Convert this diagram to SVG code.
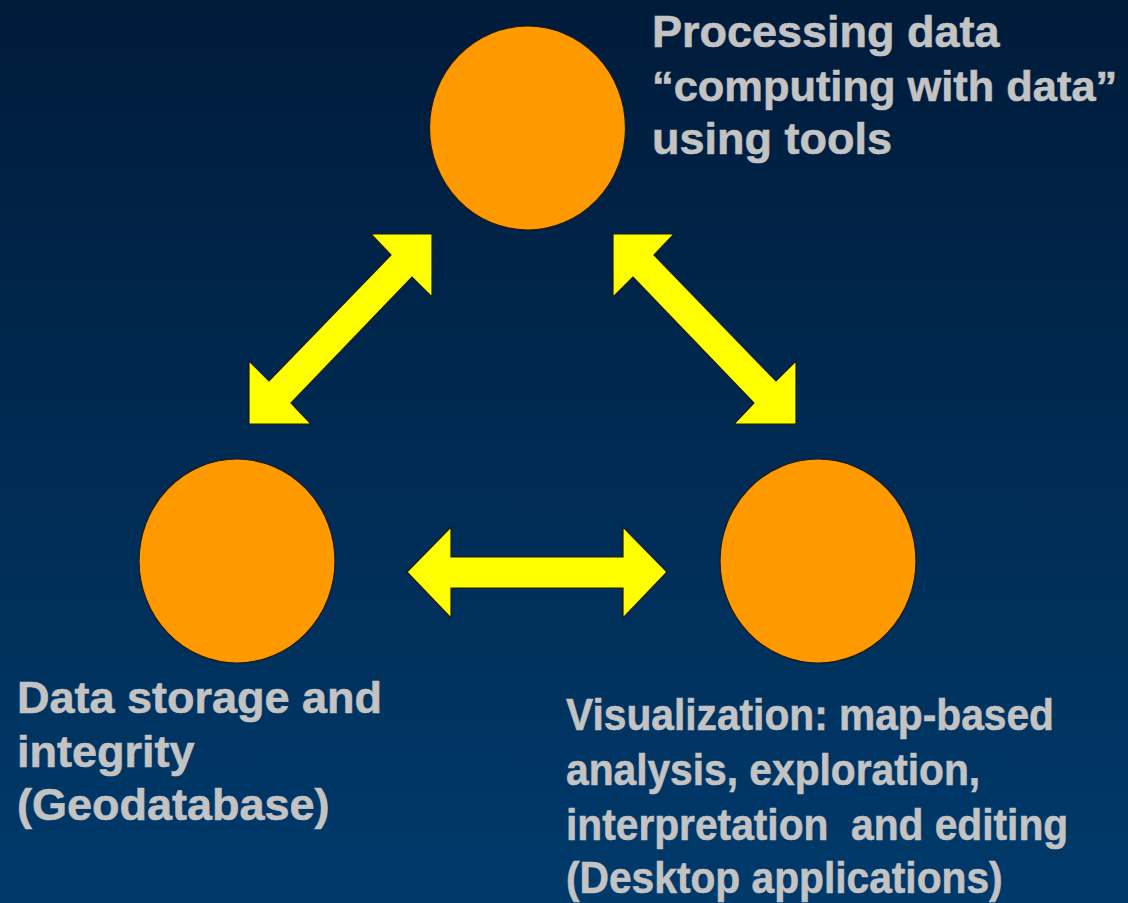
<svg xmlns="http://www.w3.org/2000/svg" width="1128" height="903" viewBox="0 0 1128 903">
<defs>
<linearGradient id="bg" x1="0" y1="0" x2="0" y2="1">
<stop offset="0" stop-color="#001b3a"/>
<stop offset="1" stop-color="#003a6b"/>
</linearGradient>
<style>
.node{fill:#ff9900;stroke:#1a1a1a;stroke-width:1.2}
.arrow{fill:#ffff00;stroke:#1a1a1a;stroke-width:1.2;stroke-linejoin:miter}
.lbl{font-family:"Liberation Sans",Arial,Helvetica,sans-serif;font-weight:bold;font-size:45px;fill:#c3c3c3;stroke:#c3c3c3;stroke-width:0.6}
</style>
</defs>
<rect x="0" y="0" width="1128" height="903" fill="url(#bg)"/>
<g id="connectors">
<polygon class="arrow" points="613,234 674,234 654,255 776,381 796,361 796,424 734,424 754,403 633,277 613,297"/>
<polygon class="arrow" points="432,234 371,234 391,255 269,381 249,361 249,424 311,424 291,403 412,277 432,297"/>
<polygon class="arrow" points="407,572 451,527 451,557 623,557 623,527 667,572 623,618 623,588 451,588 451,618"/>
</g>
<g id="node-processing">
<ellipse class="node" cx="527.5" cy="128" rx="98" ry="102"/>
<text class="lbl" x="652" y="47">Processing data</text>
<text class="lbl" x="652" y="101" style="font-size:43.4px">“computing with data”</text>
<text class="lbl" x="652" y="154">using tools</text>
</g>
<g id="node-storage">
<ellipse class="node" cx="237" cy="561" rx="98" ry="102"/>
<text class="lbl" x="17" y="713">Data storage and</text>
<text class="lbl" x="17" y="767">integrity</text>
<text class="lbl" x="17" y="820">(Geodatabase)</text>
</g>
<g id="node-visualization">
<ellipse class="node" cx="818" cy="561" rx="98" ry="102"/>
<g transform="translate(566,0) scale(0.905,1)">
<text class="lbl" x="0" y="730">Visualization: map-based</text>
<text class="lbl" x="0" y="785">analysis, exploration,</text>
<text class="lbl" x="0" y="840" xml:space="preserve">interpretation  and editing</text>
<text class="lbl" x="0" y="893">(Desktop applications)</text>
</g>
</g>
</svg>
